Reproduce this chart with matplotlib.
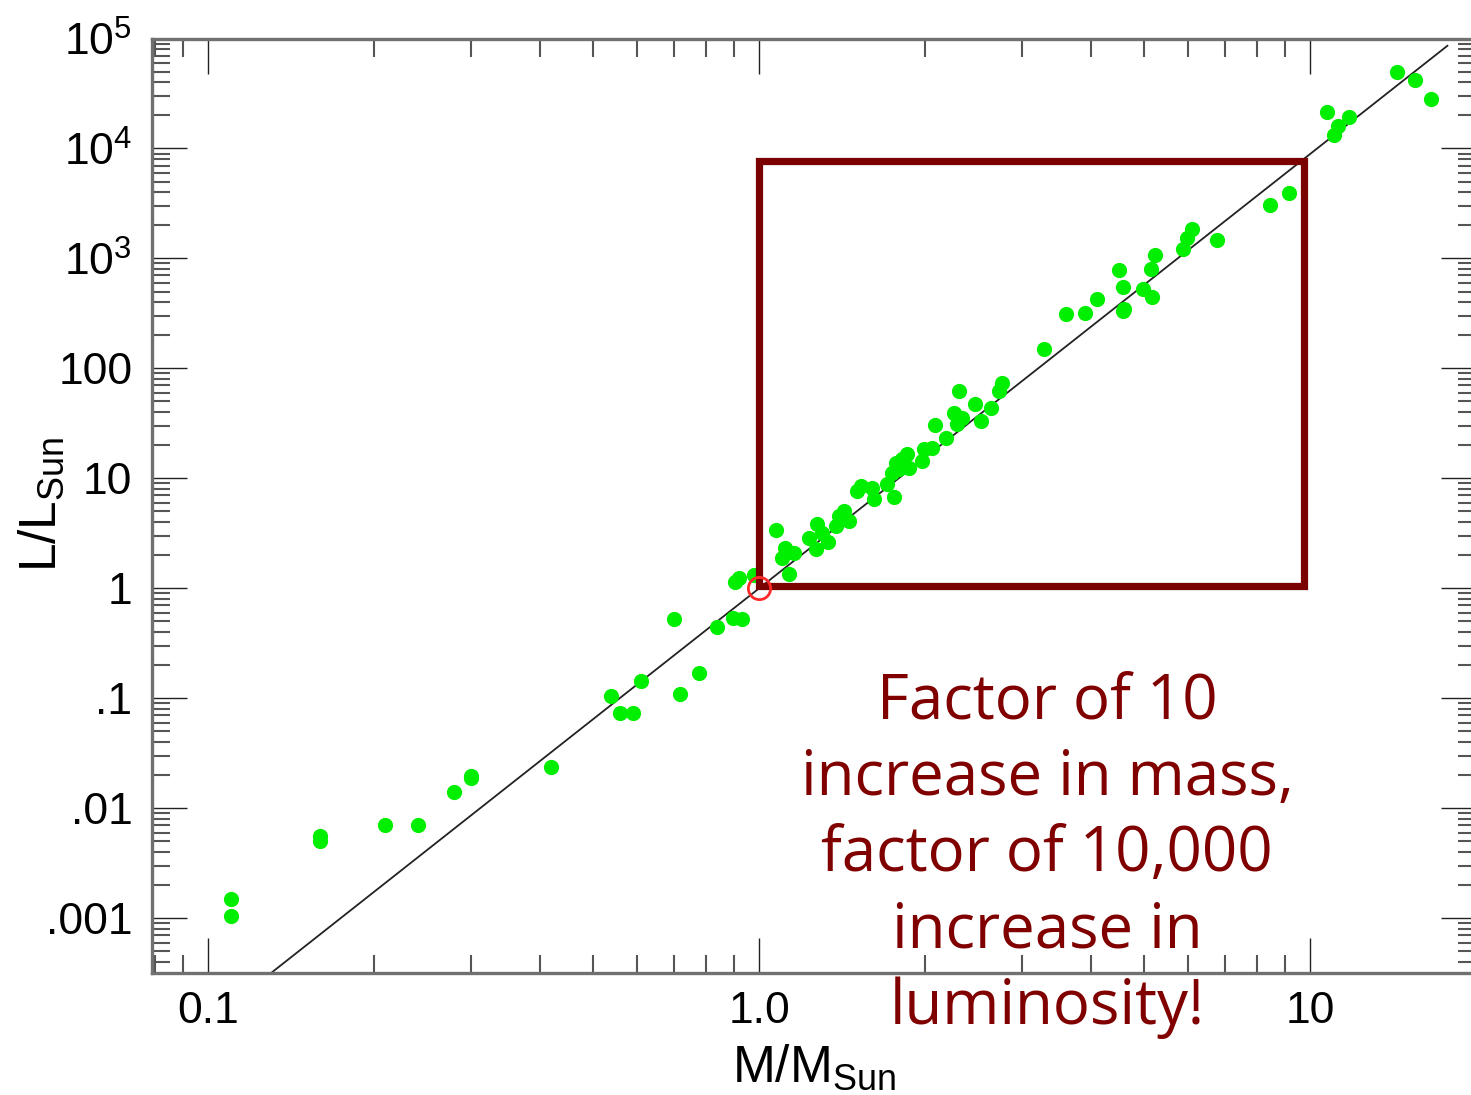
import matplotlib
matplotlib.use("Agg")
import matplotlib.pyplot as plt
from matplotlib.ticker import FixedLocator, FixedFormatter, LogLocator, NullFormatter
from matplotlib.patches import Rectangle
import numpy as np

# ---------------- data ----------------
star_mass = [
    0.110, 0.110, 0.1595, 0.1595, 0.2095, 0.240, 0.280, 0.300, 0.300, 0.419,
    0.538, 0.560, 0.590, 0.610, 0.700, 0.719, 0.778, 0.838, 0.895, 0.931,
    0.905, 0.920, 0.980,
    1.075, 1.113, 1.102, 1.157, 1.134, 1.232, 1.276, 1.270, 1.300, 1.336,
    1.397, 1.378, 1.427, 1.457, 1.508, 1.529, 1.606, 1.617, 1.758, 1.709,
    1.745, 1.771, 1.820, 1.858, 1.872, 1.795, 1.973, 1.993, 2.063, 2.086,
    2.188, 2.259, 2.307, 2.339, 2.291, 2.466, 2.525, 2.634, 2.727, 2.764,
    3.29, 3.60, 3.90, 4.10, 4.50, 4.58, 4.60, 4.57, 4.98, 5.16, 5.14, 5.23,
    5.87, 5.99, 6.10, 6.77, 8.45, 9.16,
    10.72, 11.06, 11.25, 11.74, 14.39, 15.51, 16.60,
]
star_lum = [
    0.00149, 0.00105, 0.0056, 0.0050, 0.0070, 0.0070, 0.0139, 0.0187, 0.0197, 0.0239,
    0.105, 0.0741, 0.0741, 0.145, 0.526, 0.1095, 0.170, 0.445, 0.534, 0.523,
    1.13, 1.25, 1.32,
    3.39, 2.34, 1.90, 2.11, 1.34, 2.89, 3.82, 2.26, 3.21, 2.64,
    4.54, 3.68, 5.05, 4.09, 7.67, 8.51, 8.22, 6.44, 6.82, 8.82,
    11.3, 13.9, 14.9, 16.5, 12.5, 12.1, 14.4, 18.3, 19.0, 30.3,
    23.4, 39.6, 62.2, 35.6, 31.0, 47.1, 33.2, 44.0, 62.2, 74.1,
    149, 310, 316, 424, 783, 552, 344, 330, 523, 449, 806, 1065,
    1208, 1542, 1836, 1458, 3054, 3897,
    21540, 13400, 15960, 19270, 49400, 41800, 28300,
]

sun_mass = [1.0]
sun_lum = [1.0]

fit_exponent = 3.95          # L proportional to M**exponent
fit_mass_range = [0.10, 17.8]

box_mass = [1.0, 9.74]
box_lum = [1.04, 7620]

x_ticks = [0.1, 1.0, 10]
x_ticklabels = ["0.1", "1.0", "10"]
y_ticks = [1e-3, 1e-2, 1e-1, 1, 10, 100, 1e3, 1e4, 1e5]
y_ticklabels = [".001", ".01", ".1", "1", "10", "100", "$10^3$", "$10^4$", "$10^5$"]

annotation = "Factor of 10\nincrease in mass,\nfactor of 10,000\nincrease in\nluminosity!"

# ---------------- style ----------------
plt.rcParams["font.family"] = ["Liberation Sans", "DejaVu Sans"]
plt.rcParams["mathtext.default"] = "regular"

W, H = 1471, 1095
fig = plt.figure(figsize=(W / 100, H / 100), dpi=100)
left_px, right_px, top_px, bottom_px = 151.7, 1476.0, 38.5, 972.5
ax = fig.add_axes([left_px / W, 1 - bottom_px / H,
                   (right_px - left_px) / W, (bottom_px - top_px) / H])
ax.set_xscale("log")
ax.set_yscale("log")
ax.set_xlim(0.079, 20.0)
ax.set_ylim(10 ** -3.494, 1.0005e5)

# fit line
fm = np.array(fit_mass_range)
ax.plot(fm, fm ** fit_exponent, color="#222222", lw=1.3, zorder=2,
        solid_capstyle="butt")

# stars
ax.scatter(star_mass, star_lum, s=120, color="#00ee00", linewidths=0, zorder=3)

# box
ax.add_patch(Rectangle((box_mass[0], box_lum[0]), box_mass[1] - box_mass[0],
                       box_lum[1] - box_lum[0], fill=False,
                       edgecolor="#7b0000", lw=5.2, zorder=4,
                       joinstyle="miter"))

# sun
ax.plot(sun_mass, sun_lum, marker="o", ms=16, mfc="none", mec="#ff2a2a",
        mew=2.0, ls="none", zorder=5)

# ticks
ax.xaxis.set_major_locator(FixedLocator(x_ticks))
ax.xaxis.set_major_formatter(FixedFormatter(x_ticklabels))
ax.yaxis.set_major_locator(FixedLocator(y_ticks))
ax.yaxis.set_major_formatter(FixedFormatter(y_ticklabels))
ax.xaxis.set_minor_locator(LogLocator(base=10, subs=np.arange(2, 10), numticks=30))
ax.yaxis.set_minor_locator(LogLocator(base=10, subs=np.arange(2, 10), numticks=30))
ax.xaxis.set_minor_formatter(NullFormatter())
ax.yaxis.set_minor_formatter(NullFormatter())

ax.tick_params(which="both", direction="in", top=True, right=True)
ax.tick_params(which="major", length=25, width=1.0, color="#222222",
               labelsize=32)
ax.tick_params(which="minor", length=13, width=1.5, color="#555555")
ax.tick_params(axis="y", which="major", pad=14)
ax.tick_params(axis="x", which="major", pad=13)

for sp in ax.spines.values():
    sp.set_color("#707070")
    sp.set_linewidth(2.4)

# axis labels
fig.text(42 / W, 1 - 504 / H, "L/L$_{Sun}$", rotation=90, ha="center",
         va="center", fontsize=37)
fig.text(814 / W, 1 - 1068 / H, "M/M$_{Sun}$", ha="center", va="center",
         fontsize=37)

# annotation
fig.text(1047 / W, 1 - 671 / H, annotation, ha="center", va="top",
         fontsize=44.5, color="#800000", family=["Open Sans", "DejaVu Sans"],
         linespacing=1.29)

fig.savefig("out.png", dpi=100)
